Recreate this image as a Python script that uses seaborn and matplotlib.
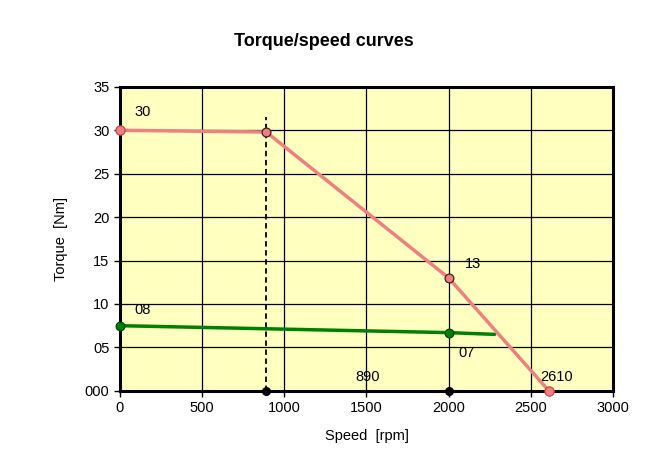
import matplotlib
matplotlib.use("Agg")
import matplotlib.pyplot as plt
import seaborn as sns
import pandas as pd

# Data
red_speed = [0, 890, 2000, 2610]
red_torque = [30, 29.8, 13, 0]
green_speed = [0, 2000, 2280]
green_torque = [7.5, 6.7, 6.5]
green_marker_speed = [0, 2000]
green_marker_torque = [7.5, 6.7]
base_speed = [890, 2000]
base_torque = [0, 0]
dash_speed = [890, 890]
dash_torque = [0, 31.5]
yticks = [0, 5, 10, 15, 20, 25, 30, 35]
ytick_labels = ["000", "05", "10", "15", "20", "25", "30", "35"]
xticks = [0, 500, 1000, 1500, 2000, 2500, 3000]

sns.set_style("white")
plt.rcParams['font.family'] = ['Liberation Sans', 'DejaVu Sans']
plt.rcParams['text.color'] = 'black'
plt.rcParams['axes.labelcolor'] = 'black'
plt.rcParams['xtick.color'] = 'black'
plt.rcParams['ytick.color'] = 'black'

fig = plt.figure(figsize=(6.48, 4.72), dpi=100)
ax = fig.add_axes([0.185, 0.172, 0.761, 0.644])
ax.set_facecolor("#FFFFC0")

red = "#F08080"
green = "#008000"

df_red = pd.DataFrame({"speed": red_speed, "torque": red_torque})
df_green = pd.DataFrame({"speed": green_speed, "torque": green_torque})

ax.plot(dash_speed, dash_torque, color="black", linewidth=1.3,
        linestyle=(0, (3, 2)), zorder=3)
sns.lineplot(data=df_green, x="speed", y="torque", ax=ax, color=green, linewidth=2.5,
             zorder=4, sort=False)
sns.lineplot(data=df_red, x="speed", y="torque", ax=ax, color=red, linewidth=2.5,
             zorder=4, sort=False)

ax.scatter(green_marker_speed, green_marker_torque, s=40, color=green,
           edgecolor="#004000", linewidth=0.8, zorder=5, clip_on=False)
ax.scatter(base_speed, base_torque, s=30, color="black", zorder=6, clip_on=False)
ax.scatter([red_speed[0], red_speed[3]], [red_torque[0], red_torque[3]], s=45,
           color=red, edgecolor="#C04040", linewidth=0.8, zorder=6, clip_on=False)
ax.scatter([red_speed[1], red_speed[2]], [red_torque[1], red_torque[2]], s=40,
           color=red, edgecolor="#402020", linewidth=0.9, zorder=6, clip_on=False)

ax.set_xlim(0, 3000)
ax.set_ylim(0, 35)
ax.set_xticks(xticks)
ax.set_yticks(yticks)
ax.set_yticklabels(ytick_labels)
ax.grid(True, color="black", lw=0.9)
ax.set_axisbelow(True)
for s in ax.spines.values():
    s.set_color("black")
    s.set_linewidth(2.2)
ax.tick_params(axis="both", labelsize=10.5, length=4, width=1, color="black",
               direction="out", left=True, bottom=True)

ax.text(90, 31.6, "30", fontsize=10.5)
ax.text(90, 8.9, "08", fontsize=10.5)
ax.text(2060, 3.9, "07", fontsize=10.5)
ax.text(2100, 14.1, "13", fontsize=10.5)
ax.text(1430, 1.1, "890", fontsize=10.5)
ax.text(2560, 1.1, "2610", fontsize=10.5)

ax.set_xlabel("Speed  [rpm]", fontsize=10.5, labelpad=10)
ax.set_ylabel("Torque  [Nm]", fontsize=10.5, labelpad=12)
fig.suptitle("Torque/speed curves", fontsize=13, fontweight="bold", y=0.93)

fig.savefig("out.png", dpi=100)
